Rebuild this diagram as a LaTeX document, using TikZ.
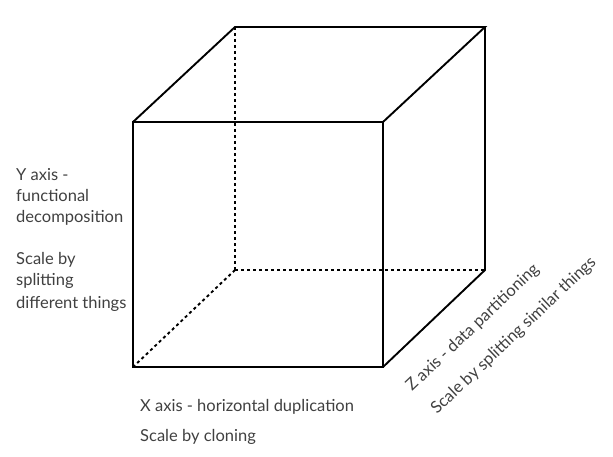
\documentclass[tikz,border=0pt]{standalone}
\usepackage{fontspec}
\setmainfont{Lato}
\definecolor{txt}{HTML}{404040}
\begin{document}
\begin{tikzpicture}[x=1bp,y=-1bp,
  edge/.style={line width=1.9bp,line cap=round,line join=miter},
  hidden/.style={line width=1.9bp,dash pattern=on 3bp off 3bp},
  lbl/.style={text=txt,font=\fontsize{16.5bp}{20bp}\selectfont,inner sep=0pt,anchor=base west}]
\useasboundingbox (0,0) rectangle (613,457);
% front face
\coordinate (fa) at (133,122);
\coordinate (fb) at (383,122);
\coordinate (fc) at (383,367);
\coordinate (fd) at (133,367);
% back face
\coordinate (ba) at (235,27);
\coordinate (bb) at (485,27);
\coordinate (bc) at (485,270);
\coordinate (bd) at (235,270);
\draw[edge] (fa) -- (fb) -- (fc) -- (fd) -- cycle;
\draw[edge] (fa) -- (ba) -- (bb) -- (fb);
\draw[edge] (bb) -- (bc) -- (fc);
\draw[hidden] (ba) -- (bd);
\draw[hidden] (bd) -- (bc);
\draw[hidden] (bd) -- (fd);
% labels
\node[lbl] (y1) at (16,181) {Y axis -};
\node[lbl] (y2) at (16,202) {functional};
\node[lbl] (y3) at (16,223) {decomposition};
\node[lbl] (y4) at (16,265) {Scale by};
\node[lbl] (y5) at (16,286) {splitting};
\node[lbl] (y6) at (16,308) {different things};
\node[lbl] (x1) at (140,411) {X axis - horizontal duplication};
\node[lbl] (x2) at (140,441) {Scale by cloning};
\node[lbl,rotate=43.5] (z1) at (412,392) {Z axis - data partitioning};
\node[lbl,rotate=43.5] (z2) at (437,415) {Scale by splitting similar things};
\end{tikzpicture}
\end{document}
